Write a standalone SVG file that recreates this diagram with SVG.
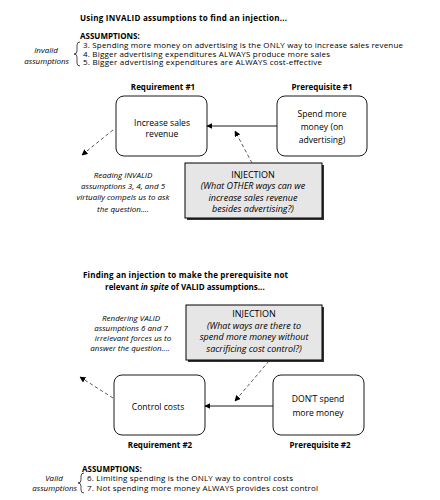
<svg xmlns="http://www.w3.org/2000/svg" width="440" height="500" viewBox="0 0 440 500">
<defs>
<marker id="ah" viewBox="0 0 10 10" refX="9" refY="5" markerWidth="6" markerHeight="6" orient="auto" markerUnits="userSpaceOnUse">
<path d="M0,0 L10,5 L0,10 z" fill="#000"/>
</marker>
</defs>
<style>
text{font-family:"Open Sans","Noto Sans","Liberation Sans",sans-serif;font-size:8px;fill:#000}
.b{font-weight:bold}
.i{font-style:italic}
.m{text-anchor:middle}
.e{text-anchor:end}
.bt{font-size:8.6px}
.it{font-size:9px}
.box{fill:#fff;stroke:#000;stroke-width:0.9}
.inj{fill:#e6e6e6;stroke:#000;stroke-width:1}
.sh{fill:#333}
.solid{stroke:#000;stroke-width:0.9;fill:none}
.dash{stroke:#333;stroke-width:0.8;stroke-dasharray:3.5,2.5;fill:none}
.brace{stroke:#000;stroke-width:0.7;fill:none}
</style>
<rect width="440" height="500" fill="#fff"/>

<g id="header1">
<text class="b" x="80" y="21" textLength="207">Using INVALID assumptions to find an injection...</text>
<text class="b" x="80" y="39">ASSUMPTIONS:</text>
<text x="83" y="48" textLength="320">3. Spending more money on advertising is the ONLY way to increase sales revenue</text>
<text x="83" y="56.5" textLength="247">4. Bigger advertising expenditures ALWAYS produce more sales</text>
<text x="83" y="65" textLength="239">5. Bigger advertising expenditures are ALWAYS cost-effective</text>
<text class="i m" x="46" y="53">Invalid</text>
<text class="i e" x="69" y="64">assumptions</text>
<path class="brace" d="M80,42 Q77,42 77,45 L77,51 Q77,54 74,54 Q77,54 77,57 L77,63 Q77,66 80,66"/>
</g>

<g id="req1">
<text class="b m" x="163" y="90">Requirement #1</text>
<rect class="box" x="116" y="96" width="91" height="60" rx="8"/>
<text class="m bt" x="162" y="126">Increase sales</text>
<text class="m bt" x="162" y="137">revenue</text>
</g>

<g id="pre1">
<text class="b m" x="322" y="90">Prerequisite #1</text>
<rect class="box" x="277" y="96" width="90" height="60" rx="8"/>
<text class="m bt" x="322" y="117">Spend more</text>
<text class="m bt" x="322" y="130">money (on</text>
<text class="m bt" x="322" y="143">advertising)</text>
</g>

<g id="inj1">
<rect class="sh" x="187" y="165" width="137" height="55"/>
<rect class="inj" x="185" y="163" width="137" height="55"/>
<text class="m it" x="253" y="178">INJECTION</text>
<text class="i m it" x="253" y="189">(What OTHER ways can we</text>
<text class="i m it" x="253" y="200.5">increase sales revenue</text>
<text class="i m it" x="253" y="212">besides advertising?)</text>
</g>

<g id="note1">
<text class="i m" x="123" y="178">Reading INVALID</text>
<text class="i m" x="123" y="189">assumptions 3, 4, and 5</text>
<text class="i m" x="123" y="200">virtually compels us to ask</text>
<text class="i m" x="123" y="212">the question....</text>
</g>

<g id="header2">
<text class="b" x="83" y="278" textLength="205">Finding an injection to make the prerequisite not</text>
<text class="b" x="105" y="290">relevant <tspan class="i">in spite</tspan> of VALID assumptions...</text>
</g>

<g id="inj2">
<rect class="sh" x="188" y="307" width="136" height="55"/>
<rect class="inj" x="186" y="305" width="136" height="55"/>
<text class="m it" x="254" y="317">INJECTION</text>
<text class="i m it" x="254" y="328.5">(What ways are there to</text>
<text class="i m it" x="254" y="340">spend more money without</text>
<text class="i m it" x="254" y="352">sacrificing cost control?)</text>
</g>

<g id="note2">
<text class="i m" x="131" y="321">Rendering VALID</text>
<text class="i m" x="131" y="331">assumptions 6 and 7</text>
<text class="i m" x="133" y="341">irrelevant forces us to</text>
<text class="i m" x="130" y="351">answer the question....</text>
</g>

<g id="req2">
<rect class="box" x="114" y="375" width="91" height="60" rx="8"/>
<text class="m bt" x="158" y="410">Control costs</text>
<text class="b m" x="160" y="448">Requirement #2</text>
</g>

<g id="pre2">
<rect class="box" x="273" y="375" width="91" height="60" rx="8"/>
<text class="m bt" x="318" y="402">DON’T spend</text>
<text class="m bt" x="318" y="416">more money</text>
<text class="b m" x="320" y="448">Prerequisite #2</text>
</g>

<g id="footer">
<text class="b" x="82" y="472">ASSUMPTIONS:</text>
<text x="87" y="481" textLength="206">6. Limiting spending is the ONLY way to control costs</text>
<text x="87" y="491" textLength="231">7. Not spending more money ALWAYS provides cost control</text>
<text class="i m" x="54" y="481">Valid</text>
<text class="i e" x="77" y="491">assumptions</text>
<path class="brace" d="M84,473 Q81,473 81,476 L81,480 Q81,483 78,483 Q81,483 81,486 L81,490 Q81,493 84,493"/>
</g>

<g id="connectors">
<line class="solid" x1="277" y1="126" x2="207" y2="126" marker-end="url(#ah)"/>
<line class="dash" x1="252" y1="163" x2="235" y2="131" marker-end="url(#ah)"/>
<line class="dash" x1="113" y1="130" x2="82" y2="155" marker-end="url(#ah)"/>
<line class="solid" x1="273" y1="406" x2="205" y2="406" marker-end="url(#ah)"/>
<line class="dash" x1="269" y1="361" x2="235" y2="401" marker-end="url(#ah)"/>
<line class="dash" x1="113" y1="398" x2="80" y2="377" marker-end="url(#ah)"/>
</g>
</svg>
